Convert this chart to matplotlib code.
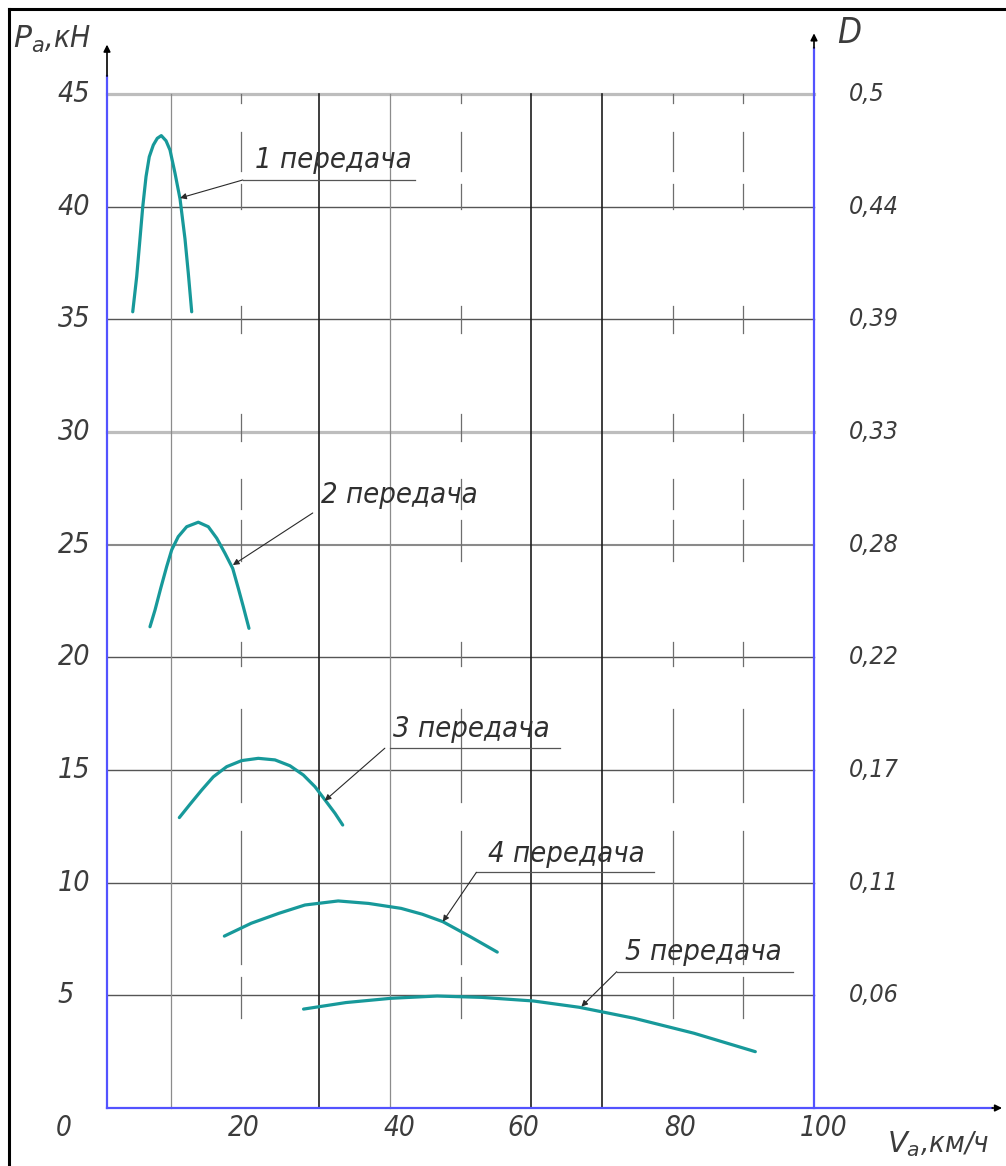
import numpy as np
import matplotlib
matplotlib.use('Agg')
import matplotlib.pyplot as plt
from matplotlib.lines import Line2D

# --- data ---
# traction force Pa (kN) vs speed Va (km/h) for each gear
v1 = [3.64, 4.20, 4.57, 5.05, 5.52, 5.98, 6.55, 7.11, 7.68, 8.35, 8.91, 9.62, 10.33, 11.03, 11.50, 11.98]
p1 = [35.34, 36.90, 38.23, 39.98, 41.34, 42.22, 42.74, 43.04, 43.16, 42.93, 42.52, 41.49, 40.35, 38.58, 37.05, 35.34]

v2 = [6.08, 6.79, 7.60, 8.44, 9.15, 10.08, 11.27, 12.91, 14.33, 15.52, 16.69, 17.78, 18.57, 19.28, 20.08]
p2 = [21.36, 22.10, 23.07, 24.03, 24.77, 25.36, 25.80, 26.00, 25.80, 25.29, 24.62, 23.95, 23.07, 22.25, 21.29]

v3 = [10.23, 11.74, 13.39, 15.04, 16.93, 19.05, 21.40, 23.76, 25.88, 27.77, 29.42, 30.84, 32.25, 33.34]
p3 = [12.89, 13.48, 14.11, 14.70, 15.15, 15.42, 15.52, 15.45, 15.19, 14.78, 14.26, 13.67, 13.08, 12.56]

v4 = [16.6, 20.4, 24.3, 28.0, 32.7, 37.0, 41.6, 44.6, 47.5, 51.4, 55.2]
p4 = [7.63, 8.2, 8.64, 9.01, 9.19, 9.08, 8.86, 8.6, 8.27, 7.6, 6.92]

v5 = [27.8, 33.8, 40.2, 46.7, 53.0, 60.3, 66.8, 74.6, 83.0, 91.7]
p5 = [4.39, 4.68, 4.87, 4.97, 4.91, 4.75, 4.47, 3.98, 3.32, 2.5]

gear_names = ['1 передача', '2 передача', '3 передача', '4 передача', '5 передача']

p_ticks = [5, 10, 15, 20, 25, 30, 35, 40, 45]
p_tick_labels = ['5', '10', '15', '20', '25', '30', '35', '40', '45']
d_tick_labels = ['0,06', '0,11', '0,17', '0,22', '0,28', '0,33', '0,39', '0,44', '0,5']
v_tick_labels = ['0', '20', '40', '60', '80', '100']
v_tick_pos = [-6.1, 19.4, 41.3, 58.9, 81.0, 101.3]   # where the labels sit in the drawing

# vertical grid lines (km/h) by drawing style
v_grid_dark = [30, 60, 70]
v_grid_gray = [9.1, 40]
v_grid_broken = [19.0, 50, 80, 90]
# pieces of the broken lines that survived the scan
broken_parts = [(44.6, 45.0), (41.6, 43.3), (39.9, 41.0), (34.4, 35.6), (29.6, 30.8),
                (26.6, 27.9), (24.3, 26.1), (19.6, 20.7), (13.6, 17.7), (6.4, 12.3),
                (4.0, 5.8)]

# annotation layout: text anchor, underline span, leader start, leader tip
ann_text = [(20.9, 41.72), (30.3, 26.85), (40.45, 16.48), (53.9, 10.94), (73.2, 6.57)]
ann_line = [(19.2, 43.6, 41.19), None, (40.0, 64.1, 15.99), (52.25, 77.4, 10.46), (72.1, 97.0, 6.05)]
ann_from = [(19.2, 41.19), (29.1, 26.41), (39.3, 15.97), (52.25, 10.46), (72.1, 6.05)]
ann_tip = [(10.33, 40.39), (17.8, 24.1), (30.8, 13.64), (47.5, 8.27), (67.1, 4.5)]

plt.rcParams['font.family'] = 'DejaVu Sans'
plt.rcParams['mathtext.fontset'] = 'dejavusans'


def txt(x, y, s, size, ha='left', va='center', color='#3c3c3c'):
    # narrow italic, close to the drafting font of the original
    ax.text(x, y, s, fontsize=size, style='italic', fontstretch='condensed',
            ha=ha, va=va, color=color)


W, H = 1006, 1166
fig = plt.figure(figsize=(W / 100, H / 100), dpi=100)
ax = fig.add_axes([0, 0, 1, 1])
# same scale as the scanned drawing: 7.07 px per km/h, 22.53 px per kN
ax.set_xlim(-107 / 7.07, (W - 107) / 7.07)
ax.set_ylim(-(H - 1108) / 22.53, 1108 / 22.53)
ax.axis('off')

# horizontal grid
for p in p_ticks:
    if p in (30, 45):
        ax.plot([0, 100], [p, p], color='#bdbdbd', lw=2.3, zorder=1)
    elif p == 25:
        ax.plot([0, 100], [p, p], color='#8a8a8a', lw=1.5, zorder=1)
    else:
        ax.plot([0, 100], [p, p], color='#555555', lw=1.0, zorder=1)

# vertical grid
for v in v_grid_dark:
    ax.plot([v, v], [0, 45], color='#1e1e1e', lw=1.2, zorder=1)
for v in v_grid_gray:
    ax.plot([v, v], [0, 45], color='#8c8c8c', lw=0.9, zorder=1)
for v in v_grid_broken:
    for a, b in broken_parts:
        ax.plot([v, v], [a, b], color='#6e6e6e', lw=0.9, zorder=1)

# axes (blue) with black arrow tips
blue = '#5353ff'
ax.plot([0, 0], [0, 45.8], color=blue, lw=1.6, zorder=3)
ax.plot([100, 100], [0, 47.05], color=blue, lw=1.6, zorder=3)
ax.plot([0, 125.2], [0, 0], color=blue, lw=1.6, zorder=3)
arr = dict(arrowstyle='-|>', color='black', lw=1.2, mutation_scale=10, shrinkA=0, shrinkB=0)
ax.annotate('', xy=(0, 47.2), xytext=(0, 45.8), arrowprops=arr)
ax.annotate('', xy=(100, 47.7), xytext=(100, 47.05), arrowprops=arr)
ax.annotate('', xy=(126.6, 0), xytext=(125.2, 0), arrowprops=arr)

# curves
teal = '#17999a'
for vs, ps in [(v1, p1), (v2, p2), (v3, p3), (v4, p4), (v5, p5)]:
    ax.plot(vs, ps, color=teal, lw=2.3, solid_capstyle='round', solid_joinstyle='round', zorder=4)

# gear labels with leaders
lead = dict(arrowstyle='-|>', color='#2a2a2a', lw=0.8, mutation_scale=9, shrinkA=0, shrinkB=0)
for i, name in enumerate(gear_names):
    tx, ty = ann_text[i]
    txt(tx, ty, name, 21, va='baseline', color='#303030')
    if ann_line[i] is not None:
        x0, x1, yy = ann_line[i]
        ax.plot([x0, x1], [yy, yy], color='#555555', lw=0.9, zorder=2)
    ax.annotate('', xy=ann_tip[i], xytext=ann_from[i], arrowprops=lead, zorder=5)

# tick labels
for p, lab in zip(p_ticks, p_tick_labels):
    txt(-7.0, p, lab, 20.5)
for p, lab in zip(p_ticks, d_tick_labels):
    txt(104.95, p, lab, 18)
for x, lab in zip(v_tick_pos, v_tick_labels):
    txt(x, -0.9, lab, 20, ha='center')

# axis titles
txt(-13.3, 47.05, r'$P_{a}$,кН', 21.5, va='baseline')
txt(103.3, 47.27, 'D', 25, va='baseline')
txt(110.3, -1.95, r'$V_{a}$,км/ч', 21, va='baseline')

# sheet frame (left and top edges)
fig.add_artist(Line2D([8.5 / W, 8.5 / W], [0, 1 - 8.5 / H], color='black', lw=2.2))
fig.add_artist(Line2D([8.5 / W, 1], [1 - 8.5 / H, 1 - 8.5 / H], color='black', lw=2.2))

fig.savefig('out.png', dpi=100)
